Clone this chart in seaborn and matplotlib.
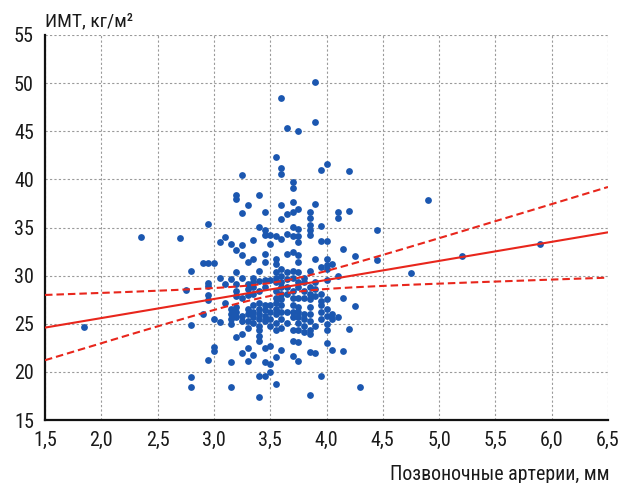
import numpy as np
import pandas as pd
import matplotlib
matplotlib.use("Agg")
import matplotlib.pyplot as plt
from matplotlib import font_manager
from matplotlib.ticker import FuncFormatter
import seaborn as sns

# ---- data ----
col_x = [1.85, 2.35, 2.7, 2.75, 2.8, 2.9, 2.95, 3.0, 3.05, 3.1, 3.15, 3.2, 3.25, 3.3,
         3.35, 3.4, 3.45, 3.5, 3.55, 3.6, 3.65, 3.7, 3.75, 3.8, 3.85, 3.9, 3.95, 4.0,
         4.05, 4.1, 4.15, 4.2, 4.25, 4.3, 4.45, 4.75, 4.9, 5.2, 5.9]
col_bmi = [
    [24.7], [34.0], [33.9], [28.5],
    [30.5, 24.9, 19.5, 18.4],
    [31.3, 26.0],
    [35.4, 31.3, 29.2, 28.9, 28.0, 27.5, 21.2],
    [31.3, 25.5, 22.6, 22.2],
    [33.5, 29.8, 25.2],
    [34.0, 29.1, 27.2],
    [33.3, 29.65, 26.5, 26.0, 25.5, 25.0, 21.0, 18.4],
    [38.4, 37.95, 32.7, 30.35, 29.1, 28.4, 27.9, 26.7, 26.2, 25.7, 23.6],
    [40.5, 36.5, 33.2, 32.1, 29.8, 27.7, 25.8, 25.3, 23.9, 22.0],
    [37.3, 31.4, 29.1, 28.6, 28.0, 26.5, 26.0, 25.3, 24.6, 22.5, 21.1],
    [33.75, 31.7, 29.8, 29.3, 28.8, 28.1, 26.9, 26.2, 25.7, 25.1, 21.8],
    [38.4, 35.1, 30.5, 29.4, 28.4, 27.2, 26.5, 26.0, 25.5, 24.8, 24.3, 23.7, 23.2, 19.6, 17.4],
    [36.6, 34.7, 34.2, 32.2, 31.4, 29.5, 28.8, 27.0, 26.4, 25.8, 25.3, 22.5, 21.0, 19.6],
    [34.2, 33.3, 29.5, 27.0, 26.2, 25.5, 24.8, 22.7, 20.8, 20.0],
    [42.3, 34.1, 31.7, 31.2, 30.4, 29.8, 29.3, 28.4, 27.7, 27.2, 26.5, 26.0, 25.1, 24.4, 21.5, 18.7],
    [48.5, 41.2, 40.6, 37.3, 35.9, 33.8, 30.7, 30.0, 29.3, 28.8, 28.1, 27.6, 26.9, 26.2, 25.5, 24.6, 22.3],
    [45.35, 36.4, 34.3, 32.2, 30.4, 29.65, 28.8, 28.1, 26.2, 25.1],
    [39.7, 39.1, 37.6, 36.6, 35.1, 34.1, 32.5, 30.5, 29.8, 28.4, 27.7, 26.9, 26.2, 25.7, 24.4, 23.2, 21.6],
    [45.0, 36.9, 34.8, 34.1, 33.5, 32.1, 31.4, 30.4, 29.3, 28.8, 27.7, 26.7, 26.2, 25.7, 25.1, 24.4, 23.1, 21.1],
    [29.8, 29.3, 28.4, 27.7, 26.0, 25.5, 24.8, 24.1],
    [36.6, 36.0, 35.3, 34.7, 34.2, 30.5, 28.8, 28.1, 27.6, 26.7, 26.0, 25.3, 24.4, 23.9, 22.1, 17.6],
    [50.1, 46.0, 37.4, 31.7, 29.3, 28.6, 27.9, 24.8, 22.0],
    [41.0, 35.2, 33.6, 30.9, 28.1, 27.4, 27.0, 26.2, 25.5, 19.6],
    [41.6, 33.6, 31.7, 31.1, 30.7, 29.5, 27.6, 26.5, 25.8, 25.0, 24.3, 23.0],
    [31.2, 26.0, 25.5, 22.3],
    [36.6, 36.0, 30.0, 25.7],
    [32.8, 27.7, 22.2],
    [40.9, 36.7, 24.45],
    [32.0, 26.8],
    [18.4],
    [34.7, 31.6],
    [30.3], [37.9], [32.0], [33.3],
]
# regression line as drawn in the reference (value at x = 1.5 and at x = 6.5)
fit_x_ends = [1.5, 6.5]
fit_y_ends = [24.6, 34.5]

x_ticks = [1.5, 2.0, 2.5, 3.0, 3.5, 4.0, 4.5, 5.0, 5.5, 6.0, 6.5]
y_ticks = [15, 20, 25, 30, 35, 40, 45, 50, 55]
x_label = "Позвоночные артерии, мм"
y_label = "ИМТ, кг/м²"

x_mm = [cx for cx, ys in zip(col_x, col_bmi) for _ in ys]
bmi = [y for ys in col_bmi for y in ys]
df = pd.DataFrame({"x": x_mm, "bmi": bmi})

# ---- style ----
sns.set_theme(style="white")
entries = font_manager.fontManager.ttflist
pick = None
for want in ["Roboto Condensed", "Liberation Sans Narrow", "DejaVu Sans Condensed",
             "Open Sans Condensed", "Noto Sans Condensed"]:
    if any(f.name == want for f in entries):
        pick = want
        break
if pick is None:
    pick = "Roboto"
plt.rcParams["font.family"] = [pick, "DejaVu Sans"]

BLUE = "#1b57b0"
RED = "#e8261c"
INK = "#1a1a1a"

fig = plt.figure(figsize=(6.23, 4.83), dpi=100)
ax = fig.add_axes([45/623, 1-420/483, (608-45)/623, (420-35)/483])

sns.scatterplot(data=df, x="x", y="bmi", ax=ax, color=BLUE, s=24, linewidth=0, zorder=3)

# line from the reference; 95% confidence band width from the data
xv = np.asarray(x_mm); yv = np.asarray(bmi)
n = len(xv)
b1 = (fit_y_ends[1] - fit_y_ends[0]) / (fit_x_ends[1] - fit_x_ends[0])
b0 = fit_y_ends[0] - b1 * fit_x_ends[0]
b1d, b0d = np.polyfit(xv, yv, 1)
s = np.sqrt(np.sum((yv - (b0d + b1d * xv))**2) / (n - 2))
sxx = np.sum((xv - xv.mean())**2)
xs = np.linspace(1.5, 6.5, 200)
fit = b0 + b1 * xs
h = 1.97 * s * np.sqrt(1/n + (xs - xv.mean())**2 / sxx)
dash = (0, (3.6, 1.9))
sns.lineplot(x=xs, y=fit, ax=ax, color=RED, linewidth=1.5, zorder=4)
sns.lineplot(x=xs, y=fit + h, ax=ax, color=RED, linewidth=1.5, linestyle=dash, zorder=4)
sns.lineplot(x=xs, y=fit - h, ax=ax, color=RED, linewidth=1.5, linestyle=dash, zorder=4)

ax.set_xlim(1.5, 6.5)
ax.set_ylim(15, 55)
ax.set_xticks(x_ticks)
ax.set_yticks(y_ticks)
ax.xaxis.set_major_formatter(FuncFormatter(lambda v, p: f"{v:.1f}".replace(".", ",")))
ax.yaxis.set_major_formatter(FuncFormatter(lambda v, p: f"{v:.0f}"))
ax.grid(True, color="#9a9a9a", linestyle=(0, (2, 2)), linewidth=0.8)
ax.set_axisbelow(True)
for sp in ["top", "right"]:
    ax.spines[sp].set_visible(False)
for sp in ["left", "bottom"]:
    ax.spines[sp].set_color("#111111")
    ax.spines[sp].set_linewidth(1.6)
ax.tick_params(axis="both", direction="out", length=5, width=1.4, color="#111111",
               labelsize=14.5, labelcolor=INK, pad=3)
ax.set_xlabel("")
ax.set_ylabel("")

fig.text(45/623, 1-21/483, y_label, fontsize=14, color=INK, ha="left", va="center")
fig.text(610/623, 1-474/483, x_label, fontsize=14.3, color=INK, ha="right", va="center")

fig.savefig("out.png", dpi=100)
